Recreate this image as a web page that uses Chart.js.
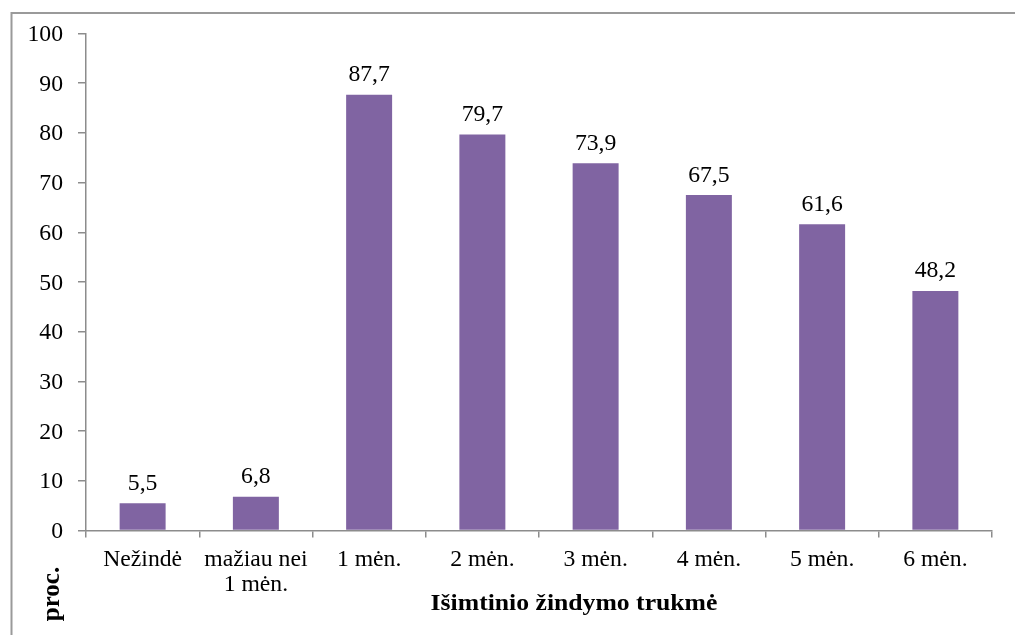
<!DOCTYPE html>
<html>
<head>
<meta charset="utf-8">
<script src="https://cdn.jsdelivr.net/npm/chart.js@4"></script>
<style>
  html, body { margin: 0; padding: 0; background: #ffffff; }
  canvas { display: block; }
</style>
</head>
<body>
<canvas id="chart" width="1015" height="635"></canvas>
<script>
// Exclusive breastfeeding duration, percent of children
const categories = [
  ['Nežindė'],
  ['mažiau nei', '1 mėn.'],
  ['1 mėn.'],
  ['2 mėn.'],
  ['3 mėn.'],
  ['4 mėn.'],
  ['5 mėn.'],
  ['6 mėn.']
];
const percentValues = [5.5, 6.8, 87.7, 79.7, 73.9, 67.5, 61.6, 48.2];
const yTickValues = [0, 10, 20, 30, 40, 50, 60, 70, 80, 90, 100];
const xAxisTitle = 'Išimtinio žindymo trukmė';
const yAxisTitle = 'proc.';

const AXIS_COLOR = '#8c8c8c';
const TEXT_COLOR = '#000000';
const SERIF = '"Liberation Serif", serif';

function wideText(ctx, text, x, y, align, font, widen) {
  ctx.save();
  ctx.font = font;
  ctx.fillStyle = TEXT_COLOR;
  ctx.textAlign = align;
  ctx.textBaseline = 'alphabetic';
  ctx.translate(x, y);
  ctx.scale(widen, 1);
  ctx.fillText(text, 0, 0);
  ctx.restore();
}

const textLayer = {
  id: 'textLayer',
  afterDraw(chart) {
    const ctx = chart.ctx;
    const xs = chart.scales.x;
    const ys = chart.scales.y;
    const tickFont = '23px ' + SERIF;
    const tickWiden = 1.03;

    // outer frame (top and left edges)
    ctx.save();
    ctx.strokeStyle = '#9a9a9a';
    ctx.lineWidth = 2;
    ctx.beginPath();
    ctx.moveTo(1015, 13);
    ctx.lineTo(11.5, 13);
    ctx.lineTo(11.5, 635);
    ctx.stroke();
    ctx.restore();

    // y tick labels
    yTickValues.forEach(v => {
      const y = ys.getPixelForValue(v);
      wideText(ctx, String(v), 63, y + 7.5, 'right', tickFont, tickWiden);
    });

    // x category labels
    categories.forEach((lines, i) => {
      const x = xs.getPixelForValue(i);
      lines.forEach((line, k) => {
        wideText(ctx, line, x, 566 + k * 25, 'center', tickFont, tickWiden);
      });
    });

    // value labels above bars
    const meta = chart.getDatasetMeta(0);
    meta.data.forEach((bar, i) => {
      const label = percentValues[i].toFixed(1).replace('.', ',');
      wideText(ctx, label, bar.x, bar.y - 13.5, 'center', tickFont, tickWiden);
    });

    // axis titles
    wideText(ctx, xAxisTitle, 574, 610, 'center', 'bold 24px ' + SERIF, 1.07);

    ctx.save();
    ctx.font = 'bold 25px ' + SERIF;
    ctx.fillStyle = TEXT_COLOR;
    ctx.textAlign = 'center';
    ctx.textBaseline = 'alphabetic';
    ctx.translate(59, 594);
    ctx.rotate(-Math.PI / 2);
    ctx.fillText(yAxisTitle, 0, 0);
    ctx.restore();
  }
};

function build() {
  new Chart(document.getElementById('chart'), {
    type: 'bar',
    data: {
      labels: categories,
      datasets: [{
        data: percentValues,
        backgroundColor: '#8064A2',
        borderWidth: 0,
        barPercentage: 0.406,
        categoryPercentage: 1
      }]
    },
    options: {
      responsive: false,
      devicePixelRatio: 1,
      animation: false,
      layout: { padding: { top: 33.5, right: 23, left: 0, bottom: 0 } },
      plugins: {
        legend: { display: false },
        tooltip: { enabled: false }
      },
      scales: {
        x: {
          offset: true,
          grid: {
            offset: true,
            drawOnChartArea: false,
            drawTicks: true,
            tickLength: 7,
            color: AXIS_COLOR,
            lineWidth: 1.5
          },
          border: { display: true, color: AXIS_COLOR, width: 1.5 },
          ticks: { display: false },
          afterFit(scale) { scale.height = 104.5; }
        },
        y: {
          min: 0,
          max: 100,
          grid: {
            drawOnChartArea: false,
            drawTicks: true,
            tickLength: 8,
            color: AXIS_COLOR,
            lineWidth: 1.5
          },
          border: { display: true, color: AXIS_COLOR, width: 1.5 },
          ticks: { display: false, stepSize: 10 },
          afterFit(scale) { scale.width = 86; }
        }
      }
    },
    plugins: [textLayer]
  });
}

Promise.all([
  document.fonts.load('23px "Liberation Serif"', 'Nežindė 0123'),
  document.fonts.load('bold 24px "Liberation Serif"', 'Išimtinio žindymo')
]).then(build, build);
</script>
</body>
</html>
